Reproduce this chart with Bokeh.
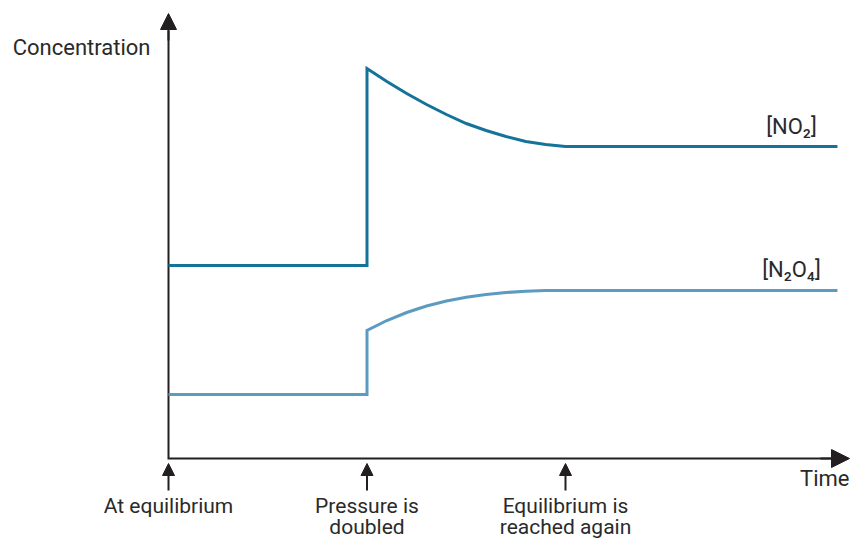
from bokeh.plotting import figure
from bokeh.models import Range1d, Arrow, NormalHead
from bokeh.core.properties import value
from bokeh.embed import file_html
from bokeh.resources import INLINE

# ---- data (time in arbitrary units, concentration in arbitrary units) ----
no2_t = [0, 1, 1, 1.1, 1.2, 1.3, 1.4, 1.5, 1.6, 1.7, 1.8, 1.9, 2.0, 3.37]
no2_c = [1.93, 1.93, 3.90, 3.77, 3.65, 3.54, 3.44, 3.35, 3.28, 3.22, 3.17, 3.14, 3.12, 3.12]
n2o4_t = [0, 1, 1, 1.1, 1.2, 1.3, 1.4, 1.5, 1.6, 1.7, 1.8, 1.9, 2.0, 3.37]
n2o4_c = [0.64, 0.64, 1.28, 1.38, 1.46, 1.525, 1.575, 1.613, 1.641, 1.66, 1.672, 1.679, 1.68, 1.68]
series_labels = ["[NO\u2082]", "[N\u2082O\u2084]"]
event_times = [0, 1, 2]
event_line1 = ["At equilibrium", "Pressure is", "Equilibrium is"]
event_line2 = ["", "doubled", "reached again"]
x_title = "Time"
y_title = "Concentration"

W, H = 851, 538
PX_T = 198.5   # pixels per time unit
PX_C = 100.0   # pixels per concentration unit
ORIG_X, ORIG_Y = 168, 458  # origin in canvas pixels


def fx(px):
    return (px - ORIG_X) / PX_T


def fy(py):
    return (ORIG_Y - py) / PX_C


p = figure(width=W, height=H, output_backend="svg", toolbar_location=None,
           x_range=Range1d(fx(0), fx(W)), y_range=Range1d(fy(H), fy(0)),
           x_axis_type=None, y_axis_type=None, min_border=0)
p.grid.visible = False
p.outline_line_color = None
p.background_fill_color = "white"

AX = "#231f20"
TXT = "#2a2a2a"
FONT = value("Roboto")
FS = "22px"
FS_SMALL = "21px"

# axes (L shape)
p.line(x=[0, 0, fx(836)], y=[fy(30), 0, 0], line_width=2, line_color=AX, line_join="miter")
p.add_layout(Arrow(end=NormalHead(size=16, fill_color=AX, line_color=AX, line_width=1),
                   x_start=0, y_start=fy(40), x_end=0, y_end=fy(13),
                   line_width=2, line_color=AX))
p.add_layout(Arrow(end=NormalHead(size=18, fill_color=AX, line_color=AX, line_width=1),
                   x_start=fx(820), y_start=0, x_end=fx(849), y_end=0,
                   line_width=2, line_color=AX))

# series
p.line(no2_t, no2_c, line_width=3, line_color="#15739a", line_join="miter")
p.line(n2o4_t, n2o4_c, line_width=3, line_color="#5b9bc0", line_join="miter")

# series labels
end_t = no2_t[-1]
lab_x = end_t - 46 / PX_T
p.text(x=[lab_x, lab_x], y=[no2_c[-1] + 20 / PX_C, n2o4_c[-1] + 21 / PX_C], text=series_labels,
       text_font=FONT, text_font_size=FS, text_color=TXT,
       text_align="center", text_baseline="middle")

# axis titles
p.text(x=[fx(150)], y=[fy(47)], text=[y_title], text_font=FONT, text_font_size=FS,
       text_color=TXT, text_align="right", text_baseline="middle")
p.text(x=[fx(849)], y=[fy(478)], text=[x_title], text_font=FONT, text_font_size=FS,
       text_color=TXT, text_align="right", text_baseline="middle")

# event arrows and labels
for t in event_times:
    p.add_layout(Arrow(end=NormalHead(size=12, fill_color=AX, line_color=AX, line_width=1),
                       x_start=t, y_start=fy(490), x_end=t, y_end=fy(463),
                       line_width=2, line_color=AX))
p.text(x=event_times, y=[fy(505)] * 3, text=event_line1, text_font=FONT, text_font_size=FS_SMALL,
       text_color=TXT, text_align="center", text_baseline="middle")
p.text(x=event_times, y=[fy(526)] * 3, text=event_line2, text_font=FONT, text_font_size=FS_SMALL,
       text_color=TXT, text_align="center", text_baseline="middle")

open("out.html", "w").write(file_html(p, INLINE))
